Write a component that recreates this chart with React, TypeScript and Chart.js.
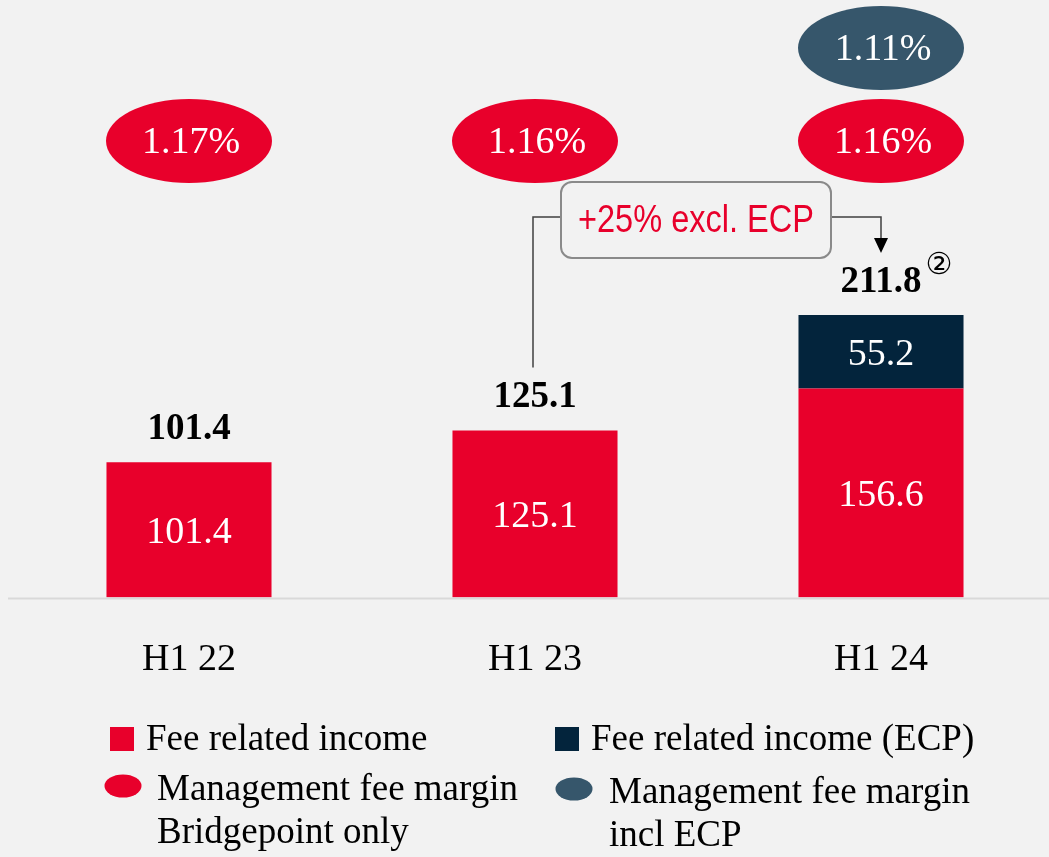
import React, { useEffect, useRef } from "react";
import { Chart, registerables } from "chart.js";

Chart.register(...registerables);

// ---- data ----
const categories = ["H1 22", "H1 23", "H1 24"];
const feeIncome = [101.4, 125.1, 156.6];
const feeIncomeECP = [null, null, 55.2];
const totals = [101.4, 125.1, 211.8];
const totalFootnotes = ["", "", "②"];
const marginBridgepoint = ["1.17%", "1.16%", "1.16%"];
const marginInclECP = ["", "", "1.11%"];
const growthLabel = "+25% excl. ECP";
const legendItems = [
  { label: ["Fee related income"], shape: "square", color: "red" },
  { label: ["Fee related income (ECP)"], shape: "square", color: "navy" },
  { label: ["Management fee margin", "Bridgepoint only"], shape: "ellipse", color: "red" },
  { label: ["Management fee margin", "incl ECP"], shape: "ellipse", color: "slate" },
];

// ---- style ----
const RED = "#e8002b";
const NAVY = "#03243c";
const SLATE = "#36566b";
const BG = "#f2f2f2";
const SERIF = '"Liberation Serif", "DejaVu Serif", serif';
const SANS = '"Liberation Sans", sans-serif';
const colorOf: Record<string, string> = { red: RED, navy: NAVY, slate: SLATE };

const overlay = {
  id: "overlay",
  beforeDraw(chart: any) {
    const ctx = chart.ctx;
    ctx.save();
    ctx.fillStyle = BG;
    ctx.fillRect(0, 0, chart.width, chart.height);
    ctx.restore();
  },
  afterDatasetsDraw(chart: any) {
    const ctx = chart.ctx;
    const xs = chart.scales.x;
    const ys = chart.scales.y;
    const area = chart.chartArea;
    ctx.save();

    // baseline
    ctx.strokeStyle = "#d9d9d9";
    ctx.lineWidth = 2;
    ctx.beginPath();
    ctx.moveTo(8, area.bottom + 1);
    ctx.lineTo(chart.width, area.bottom + 1);
    ctx.stroke();

    // inside bar labels
    ctx.textAlign = "center";
    ctx.textBaseline = "middle";
    ctx.fillStyle = "#ffffff";
    ctx.font = `38px ${SERIF}`;
    [0, 1].forEach((di) => {
      const meta = chart.getDatasetMeta(di);
      const vals = di === 0 ? feeIncome : feeIncomeECP;
      meta.data.forEach((bar: any, i: number) => {
        const v = vals[i];
        if (v == null) return;
        const p = bar.getProps(["x", "y", "base"], true);
        ctx.fillText(v.toFixed(1), p.x, (p.y + p.base) / 2 + 3);
      });
    });

    // totals above bars
    ctx.fillStyle = "#000000";
    totals.forEach((t, i) => {
      const cx = xs.getPixelForValue(i);
      const ty = ys.getPixelForValue(t) - 33;
      ctx.font = `bold 37px ${SERIF}`;
      const s = t.toFixed(1);
      ctx.textAlign = "center";
      ctx.fillText(s, cx, ty);
      if (totalFootnotes[i]) {
        const w = ctx.measureText(s).width;
        ctx.font = `30px "DejaVu Sans", sans-serif`;
        ctx.textAlign = "left";
        ctx.fillText(totalFootnotes[i], cx + w / 2 + 4, ty - 16);
      }
    });

    // margin ellipses
    const rows = [
      { vals: marginBridgepoint, color: RED, cy: area.top + 141 },
      { vals: marginInclECP, color: SLATE, cy: area.top + 48 },
    ];
    ctx.textAlign = "center";
    ctx.font = `38px ${SERIF}`;
    rows.forEach((r) => {
      r.vals.forEach((v, i) => {
        if (!v) return;
        const cx = xs.getPixelForValue(i);
        ctx.fillStyle = r.color;
        ctx.beginPath();
        ctx.ellipse(cx, r.cy, 83, 42, 0, 0, Math.PI * 2);
        ctx.fill();
        ctx.fillStyle = "#ffffff";
        ctx.fillText(v, cx + 2, r.cy + 2);
      });
    });

    // growth annotation
    const x1 = xs.getPixelForValue(1) - 2;
    const x2 = xs.getPixelForValue(2);
    const boxL = x1 + 28;
    const boxR = x2 - 50;
    const boxT = area.top + 182;
    const boxB = area.top + 258;
    const lineY = area.top + 217;
    ctx.strokeStyle = "#404040";
    ctx.lineWidth = 1.5;
    ctx.beginPath();
    ctx.moveTo(x1, ys.getPixelForValue(totals[1]) - 63);
    ctx.lineTo(x1, lineY);
    ctx.lineTo(boxL, lineY);
    ctx.moveTo(boxR, lineY);
    ctx.lineTo(x2, lineY);
    ctx.lineTo(x2, area.top + 240);
    ctx.stroke();
    ctx.fillStyle = "#000000";
    ctx.beginPath();
    ctx.moveTo(x2 - 7, area.top + 238);
    ctx.lineTo(x2 + 7, area.top + 238);
    ctx.lineTo(x2, area.top + 253);
    ctx.closePath();
    ctx.fill();

    ctx.strokeStyle = "#8a8a8a";
    ctx.lineWidth = 2;
    ctx.fillStyle = BG;
    ctx.beginPath();
    ctx.roundRect(boxL, boxT, boxR - boxL, boxB - boxT, 11);
    ctx.fill();
    ctx.stroke();
    ctx.fillStyle = RED;
    ctx.font = `39px ${SANS}`;
    ctx.textAlign = "center";
    const tw = ctx.measureText(growthLabel).width;
    const sx = Math.min(1, 236 / tw);
    ctx.save();
    ctx.translate((boxL + boxR) / 2, (boxT + boxB) / 2 + 1);
    ctx.scale(sx, 1);
    ctx.fillText(growthLabel, 0, 0);
    ctx.restore();

    // legend
    const cols = [110, 555];
    const rowsY = [739, 790];
    ctx.textAlign = "left";
    ctx.font = `37px ${SERIF}`;
    legendItems.forEach((it, k) => {
      const lx = cols[k % 2];
      const ly = rowsY[Math.floor(k / 2)];
      ctx.fillStyle = colorOf[it.color];
      if (it.shape === "square") {
        ctx.fillRect(lx, ly - 12, 24, 24);
        ctx.fillStyle = "#000000";
        ctx.fillText(it.label[0], lx + 36, ly + 1);
      } else {
        ctx.beginPath();
        ctx.ellipse(lx + 13 + (k % 2) * 6, ly - 4 + (k % 2) * 3, 18.5, 11.5, 0, 0, Math.PI * 2);
        ctx.fill();
        ctx.fillStyle = "#000000";
        it.label.forEach((line, j) => {
          ctx.fillText(line, lx + 47 + (k % 2) * 7, ly + (k % 2) * 3 + j * 43);
        });
      }
    });

    ctx.restore();
  },
};

export default function App() {
  const ref = useRef<HTMLCanvasElement | null>(null);
  useEffect(() => {
    if (!ref.current) return;
    const chart = new Chart(ref.current, {
      type: "bar",
      data: {
        labels: categories,
        datasets: [
          {
            label: "Fee related income",
            data: feeIncome,
            backgroundColor: RED,
            barPercentage: 0.477,
            categoryPercentage: 1,
          },
          {
            label: "Fee related income (ECP)",
            data: feeIncomeECP as any,
            backgroundColor: NAVY,
            barPercentage: 0.477,
            categoryPercentage: 1,
          },
        ],
      },
      options: {
        animation: false,
        responsive: false,
        maintainAspectRatio: false,
        devicePixelRatio: 1,
        layout: { padding: { top: 0, left: 16, right: 0, bottom: 134 } },
        plugins: { legend: { display: false }, tooltip: { enabled: false } },
        scales: {
          x: {
            stacked: true,
            grid: { display: false, drawTicks: false },
            border: { display: false },
            ticks: { color: "#000000", font: { family: SERIF, size: 38 }, padding: 40 },
          },
          y: { stacked: true, display: false, min: 0, max: 448 },
        },
      },
      plugins: [overlay],
    });
    return () => chart.destroy();
  }, []);
  return (
    <div style={{ position: "fixed", left: 0, top: 0, width: 1049, height: 857, background: BG, overflow: "hidden" }}>
      <canvas ref={ref} width={1054} height={857} style={{ display: "block", width: 1054, height: 857 }} />
    </div>
  );
}
